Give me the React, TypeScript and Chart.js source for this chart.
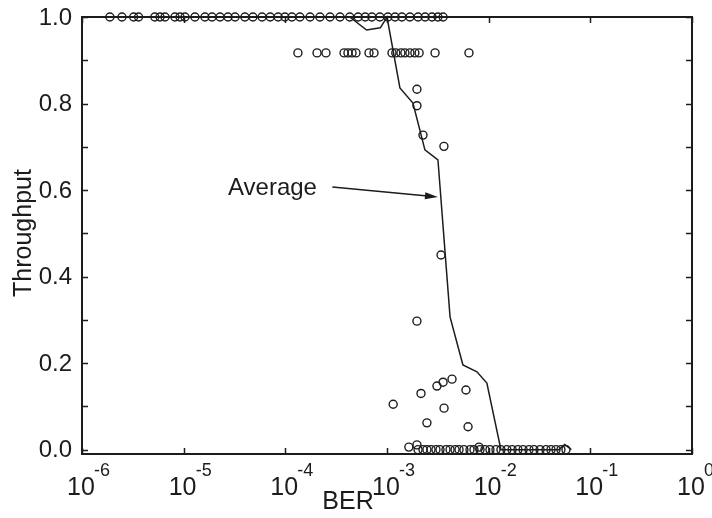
import React, { useEffect, useRef } from "react";
import { Chart, registerables } from "chart.js";

Chart.register(...registerables);

// ---------- data ----------
// Throughput = 1.0 runs
const rowOneBer = [
  1.88e-6, 2.47e-6, 3.22e-6, 3.6e-6, 5.2e-6, 5.85e-6, 6.55e-6, 8.2e-6, 9.2e-6,
  1.03e-5, 1.29e-5, 1.62e-5, 1.9e-5, 2.28e-5, 2.73e-5, 3.2e-5, 4.0e-5, 4.8e-5,
  5.9e-5, 7.1e-5, 8.5e-5, 9.9e-5, 1.16e-4, 1.39e-4, 1.75e-4, 2.19e-4, 2.75e-4,
  3.45e-4, 4.3e-4, 5.2e-4, 6.1e-4, 7.1e-4, 8.5e-4, 1.02e-3, 1.2e-3, 1.4e-3,
  1.68e-3, 2.02e-3, 2.37e-3, 2.77e-3, 3.17e-3, 3.56e-3,
];
const rowOneThr = 1.0;

// Throughput = 11/12 runs
const rowElevenBer = [
  1.33e-4, 2.05e-4, 2.51e-4, 3.78e-4, 4.13e-4, 4.53e-4, 4.95e-4, 6.65e-4,
  7.45e-4, 1.12e-3, 1.22e-3, 1.37e-3, 1.5e-3, 1.68e-3, 1.88e-3, 2.07e-3,
  2.97e-3, 6.4e-3,
];
const rowElevenThr = 0.917;

// scattered intermediate runs
const midBer = [
  1.97e-3, 1.97e-3, 2.26e-3, 3.63e-3, 3.4e-3, 1.97e-3, 1.15e-3, 2.16e-3,
  3.1e-3, 3.56e-3, 4.36e-3, 5.98e-3, 3.64e-3, 2.47e-3, 6.27e-3, 1.64e-3,
  1.97e-3, 8.03e-3,
];
const midThr = [
  0.833, 0.795, 0.727, 0.701, 0.45, 0.297, 0.105, 0.13, 0.147, 0.156, 0.163,
  0.138, 0.096, 0.062, 0.053, 0.006, 0.011, 0.006,
];

// Throughput = 0 runs
const rowZeroBer = [
  2.02e-3, 2.26e-3, 2.47e-3, 2.71e-3, 3.03e-3, 3.32e-3, 3.8e-3, 4.17e-3,
  4.67e-3, 5.11e-3, 5.71e-3, 6.55e-3, 7.17e-3, 8.22e-3, 9.2e-3, 1.03e-2,
  1.18e-2, 1.32e-2, 1.51e-2, 1.7e-2, 1.94e-2, 2.18e-2, 2.49e-2, 2.79e-2,
  3.2e-2, 3.66e-2, 4.1e-2, 4.59e-2, 5.14e-2, 5.76e-2,
];
const rowZeroThr = 0.0;

// Average curve
const avgBer = [
  1e-6, 4.3e-4, 6.3e-4, 8.6e-4, 1.0e-3, 1.34e-3, 1.8e-3, 2.36e-3, 3.17e-3,
  4.17e-3, 5.58e-3, 7.67e-3, 9.6e-3, 1.32e-2, 4.9e-2, 5.6e-2, 6.5e-2,
];
const avgThr = [
  1.0, 1.0, 0.97, 0.975, 1.0, 0.836, 0.801, 0.693, 0.67, 0.307, 0.196, 0.18,
  0.154, 0.0, 0.0, 0.012, 0.0,
];

// axes
const xTickExponents = ["-6", "-5", "-4", "-3", "-2", "-1", "0"];
const yTickLabels = ["0.0", "0.2", "0.4", "0.6", "0.8", "1.0"];
const yTickValues = [0, 0.2, 0.4, 0.6, 0.8, 1.0];
const yMarkValues = [0, 0.1, 0.2, 0.3, 0.4, 0.5, 0.6, 0.7, 0.8, 0.9, 1.0];
const xTitle = "BER";
const yTitle = "Throughput";
const noteText = "Average";
// annotation anchor points in data coordinates
const noteTextAt = { x: 2.73e-5, y: 0.589 };
const noteArrowFrom = { x: 2.9e-4, y: 0.607 };
const noteArrowTo = { x: 3.17e-3, y: 0.584 };

const INK = "#1c1c1c";
const FONT = '"Liberation Sans", Arial, Helvetica, sans-serif';

const framePlugin = {
  id: "framePlugin",
  afterDraw(chart: any) {
    const { ctx, chartArea: a, scales } = chart;
    const xs = scales.x;
    const ys = scales.y;
    ctx.save();
    ctx.strokeStyle = INK;
    ctx.fillStyle = INK;
    // frame
    ctx.lineWidth = 2;
    ctx.strokeRect(a.left, a.top, a.right - a.left, a.bottom - a.top);
    // x ticks (inward, top & bottom)
    ctx.lineWidth = 1.5;
    xTickExponents.forEach((e) => {
      const px = Math.round(xs.getPixelForValue(Math.pow(10, Number(e)))) + 0.5;
      ctx.beginPath();
      ctx.moveTo(px, a.bottom);
      ctx.lineTo(px, a.bottom - 6);
      ctx.moveTo(px, a.top);
      ctx.lineTo(px, a.top + 6);
      ctx.stroke();
    });
    // y ticks (inward, left & right)
    yMarkValues.forEach((v) => {
      const py = Math.round(ys.getPixelForValue(v)) + 0.5;
      ctx.beginPath();
      ctx.moveTo(a.left, py);
      ctx.lineTo(a.left + 6, py);
      ctx.moveTo(a.right, py);
      ctx.lineTo(a.right - 6, py);
      ctx.stroke();
    });
    // y tick labels
    ctx.font = `24px ${FONT}`;
    ctx.textAlign = "right";
    ctx.textBaseline = "middle";
    yTickValues.forEach((v, i) => {
      const py = ys.getPixelForValue(v);
      ctx.fillText(yTickLabels[i], a.left - 10, py + 1);
    });
    // x tick labels: 10^e
    xTickExponents.forEach((e) => {
      const px = xs.getPixelForValue(Math.pow(10, Number(e)));
      ctx.textAlign = "left";
      ctx.textBaseline = "alphabetic";
      ctx.font = `25px ${FONT}`;
      ctx.fillText("10", px - 15, a.bottom + 41);
      ctx.font = `18px ${FONT}`;
      ctx.fillText(e, px + 12, a.bottom + 22);
    });
    // axis titles
    ctx.font = `25px ${FONT}`;
    ctx.textAlign = "center";
    ctx.textBaseline = "alphabetic";
    ctx.fillText(xTitle, (a.left + a.right) / 2 - 39, a.bottom + 55);
    ctx.save();
    ctx.translate(31, 233);
    ctx.rotate(-Math.PI / 2);
    ctx.fillText(yTitle, 0, 0);
    ctx.restore();
    // annotation
    ctx.font = `24px ${FONT}`;
    ctx.textAlign = "left";
    ctx.fillText(noteText, xs.getPixelForValue(noteTextAt.x), ys.getPixelForValue(noteTextAt.y));
    const x0 = xs.getPixelForValue(noteArrowFrom.x);
    const y0 = ys.getPixelForValue(noteArrowFrom.y);
    const x1 = xs.getPixelForValue(noteArrowTo.x);
    const y1 = ys.getPixelForValue(noteArrowTo.y);
    const ang = Math.atan2(y1 - y0, x1 - x0);
    const hl = 13;
    const hw = 3.5;
    ctx.lineWidth = 1.4;
    ctx.beginPath();
    ctx.moveTo(x0, y0);
    ctx.lineTo(x1 - hl * Math.cos(ang), y1 - hl * Math.sin(ang));
    ctx.stroke();
    ctx.beginPath();
    ctx.moveTo(x1, y1);
    ctx.lineTo(
      x1 - hl * Math.cos(ang) - hw * Math.sin(ang),
      y1 - hl * Math.sin(ang) + hw * Math.cos(ang)
    );
    ctx.lineTo(
      x1 - hl * Math.cos(ang) + hw * Math.sin(ang),
      y1 - hl * Math.sin(ang) - hw * Math.cos(ang)
    );
    ctx.closePath();
    ctx.fill();
    ctx.restore();
  },
};

export default function App() {
  const ref = useRef<HTMLCanvasElement | null>(null);

  useEffect(() => {
    if (!ref.current) return;
    const pts: { x: number; y: number }[] = [];
    rowOneBer.forEach((b) => pts.push({ x: b, y: rowOneThr }));
    rowElevenBer.forEach((b) => pts.push({ x: b, y: rowElevenThr }));
    midBer.forEach((b, i) => pts.push({ x: b, y: midThr[i] }));
    rowZeroBer.forEach((b) => pts.push({ x: b, y: rowZeroThr }));
    const avg = avgBer.map((b, i) => ({ x: b, y: avgThr[i] }));

    const chart = new Chart(ref.current, {
      type: "scatter",
      data: {
        datasets: [
          {
            label: "Average",
            data: avg,
            showLine: true,
            borderColor: INK,
            borderWidth: 1.5,
            pointRadius: 0,
            fill: false,
            tension: 0,
            clip: false,
          } as any,
          {
            label: "Runs",
            data: pts,
            showLine: false,
            pointStyle: "circle",
            pointRadius: 4,
            borderWidth: 1.4,
            borderColor: INK,
            backgroundColor: "rgba(0,0,0,0)",
            clip: false,
          } as any,
        ],
      },
      options: {
        responsive: false,
        animation: false,
        layout: { padding: { left: 82, top: 17, right: 20, bottom: 64 } },
        plugins: { legend: { display: false }, tooltip: { enabled: false } },
        scales: {
          x: { type: "logarithmic", min: 1e-6, max: 1, display: false },
          y: { type: "linear", min: -0.01, max: 1.0, display: false },
        },
      },
      plugins: [framePlugin],
    });
    return () => chart.destroy();
  }, []);

  return (
    <div style={{ position: "fixed", left: 0, top: 0, width: 712, height: 518, background: "#fff" }}>
      <canvas ref={ref} width={712} height={518} style={{ display: "block" }} />
    </div>
  );
}
